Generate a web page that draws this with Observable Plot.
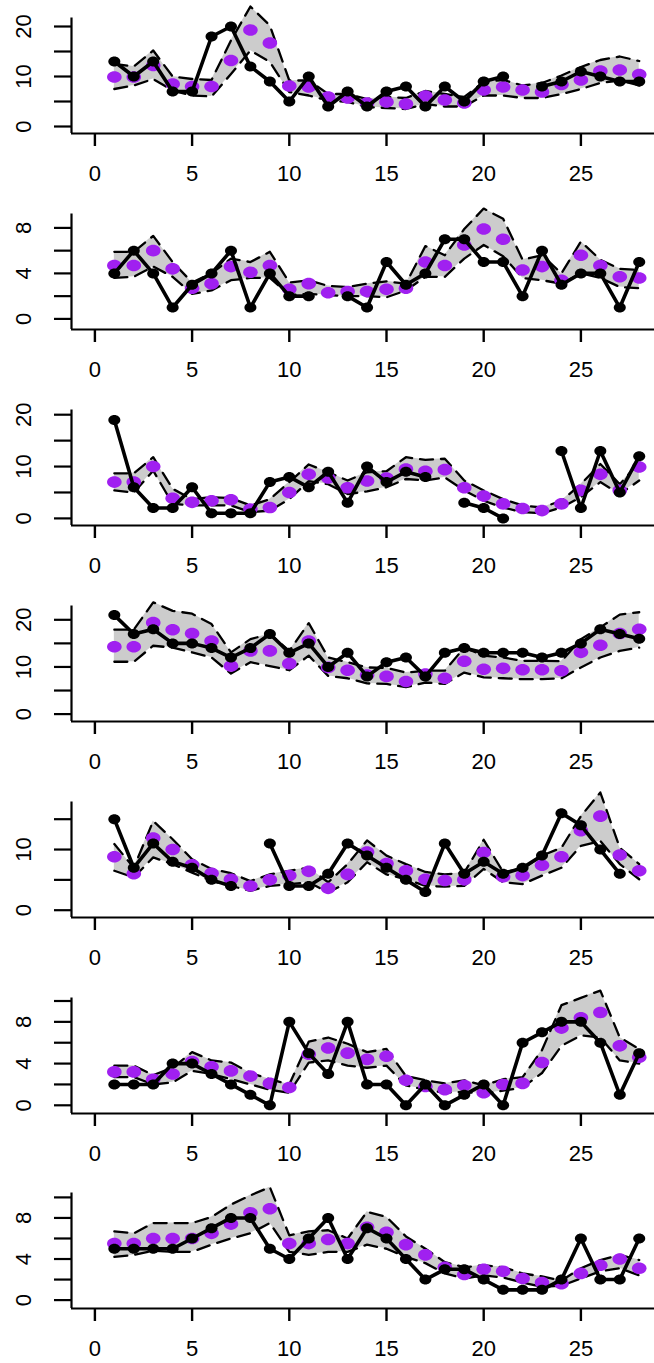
<!DOCTYPE html>
<html><head><meta charset="utf-8">
<script src="https://cdn.jsdelivr.net/npm/d3@7"></script>
<script src="https://cdn.jsdelivr.net/npm/@observablehq/plot@0.6"></script>
<style>
html,body{margin:0;padding:0;background:#fff;overflow:hidden;}
#wrap{position:relative;width:654px;height:1363px;}
#wrap svg{position:absolute;left:0;background:transparent;overflow:visible;}
</style></head><body><div id="wrap"></div>
<script>
const days = d3.range(1, 29);
const xTicks = [0, 5, 10, 15, 20, 25];

const obs1 = [13,10,13,7,7,18,20,12,9,5,10,4,7,4,7,8,4,8,5,9,10,null,8,9,11,10,9,9];
const pred1 = [9.9,9.9,12.2,8.5,8,8,13.2,19.3,16.7,8.1,7.9,5.9,5.7,4.7,4.9,4.5,6.1,5.3,4.7,7.3,7.9,7.3,6.9,8.4,9.3,11.1,11.3,10.4];
const lo1 = [7.5,8.2,9.5,7.2,6.2,6,10.5,15.2,12.9,6.9,6.2,5.2,4.9,3.9,3.7,3.5,4.5,4,4,6.2,6.2,5.7,5.7,6.5,7.5,8.7,9.2,8.2];
const hi1 = [12.5,12,15.2,10,9.5,9.3,17.2,24,20.2,9.2,9.2,6.5,6.5,5.5,5.9,5.7,7.1,6.5,5.9,8.9,9.3,8.2,8.7,10.2,11.9,13.3,14,13.1];

const obs2 = [4,6,4,1,3,4,6,1,4,2,2,null,2,1,5,3,4,7,7,5,5,2,6,3,4,4,1,5];
const pred2 = [4.7,4.7,6,4.4,2.7,3.1,4.6,4.1,4.7,2.6,3.1,2.3,2.4,2.4,2.6,2.7,5,4.7,6.5,7.9,7,4.3,4.6,3.4,5.6,4.7,3.7,3.6];
const lo2 = [3.6,3.7,4.6,3.7,2.2,2.5,3.4,3.6,3.6,2.1,2.2,2.1,2,2,1.9,2.5,3.7,3.7,5.3,6.5,5.5,3.6,3.4,3.1,4,3.6,2.8,2.7];
const hi2 = [5.9,5.9,7.3,5,3.2,4,5.3,5,5.9,3.2,3.4,2.9,2.8,3.1,3.3,3.1,6.4,5.6,7.9,9.7,8.8,5.2,5.6,4,6.8,5.2,4.4,4.3];

const obs3 = [19,6,2,2,6,1,1,1,7,8,6,9,3,10,7,9,8,null,3,2,0,null,null,13,2,13,5,12];
const pred3 = [7,7,10,3.9,3.1,3.4,3.6,1.8,2.1,5,8.5,7.8,5.9,7.2,7.8,9.5,9.1,9.4,5.9,4.3,2.8,1.9,1.5,2.8,5.4,8.5,5.4,9.9];
const lo3 = [5.4,5,9.2,2.8,2.5,2.5,2.5,1.2,1.5,3.7,7.2,6.6,4.7,5.2,6,7.6,7.3,7.9,5.4,3.4,2.1,1.2,1,2.1,4.1,7,4.7,7.3];
const hi3 = [8.7,8.7,11.8,5.7,3.7,4.1,3.9,2.5,3.7,7,10.4,8.9,7.3,8.9,9.1,11.8,11.3,11.5,7.3,5.4,3.7,2.5,2.1,3.4,6.6,10.5,6.6,10.8];

const obs4 = [21,17,18,15,15,14,12,14,17,13,15,10,13,8,11,12,8,13,14,13,13,13,12,13,15,18,17,16];
const pred4 = [14.3,14.3,19.4,17.9,17.1,15.5,10.2,13.4,13.4,10.7,15.5,9.9,9.3,8.3,8,6.9,8.5,7.6,11.2,9.5,9.7,9.4,9.4,9.2,13.1,14.6,17.1,18];
const lo4 = [11.1,11.1,14.5,14.1,13.1,12,8.6,11,10.2,9.3,12.4,8.1,7.6,6.5,6.4,5.7,6.7,6.4,8.8,7.8,7.6,7.4,7.4,7.6,9.9,12,13.4,14.1];
const hi4 = [17.9,17.9,23.7,21.9,21.3,19.1,13.1,15.9,17,13.4,19.3,12,11,9.9,9.8,8.8,9.2,9.2,14.1,12.4,12,11.3,11.3,11.2,15.9,18.4,21.1,21.6];

const obs5 = [15,7,11,8,7,5,4,null,11,4,4,6,11,9,7,5,3,11,6,8,6,7,9,16,14,10,6,null];
const pred5 = [8.8,6,11.9,10,7.5,6.1,5.1,4,5,5.7,6.4,3.6,5.9,9.6,7.7,6.5,5.1,4.9,5,9.5,5.5,5.7,7.4,8.8,13.1,15.5,9.1,6.5];
const lo5 = [6.5,5.4,8.7,7.6,6.2,4.8,4,3.2,4,4.3,4.6,2.9,4.6,7.9,5.9,5.1,4,3.9,4,6.8,4.6,4.3,5.7,7,10.6,11.4,7.6,5.1];
const hi5 = [10.9,7,14.7,11.7,8.4,6.8,6.1,4.8,5.9,6.5,7,4.6,7.6,11.5,9,7.6,6.3,5.9,6.2,11.6,6.3,6.8,9,10.3,15.5,19.4,10.3,7.6];

const obs6 = [2,2,2,4,4,3,2,1,0,8,5,3,8,2,2,0,2,0,1,2,0,6,7,8,8,6,1,5];
const pred6 = [3.2,3.2,2.5,3,4.2,3.7,3.3,2.8,2.1,1.7,4.9,5.5,5,4.4,4.7,2.4,1.8,1.5,1.9,1.2,2,2.1,4.1,7.4,8.4,8.9,5.7,4.6];
const lo6 = [2.7,2.7,2,2.2,3.3,3,2.5,2,1.5,1.2,4.1,4.3,3.8,3.6,3.8,1.9,1.5,1.2,1.3,1.1,1.4,1.7,3.1,5.7,6.7,6.5,4.3,4];
const hi6 = [3.8,3.8,2.9,3.6,5.1,4.3,4.1,3.1,2.5,2,6.1,6.5,5.9,5.1,5.4,2.8,2.4,2.1,2.4,1.9,2.5,2.7,5.3,9.6,10.3,11,6.5,5.4];

const obs7 = [5,5,5,5,6,7,8,8,5,4,6,8,4,7,6,4,2,3,3,2,1,1,1,2,6,2,2,6];
const pred7 = [5.5,5.5,6,6,6,6.5,7.4,8.5,8.9,5.5,5.5,5.9,5.5,7.1,6.6,5.4,4.4,3.2,2.5,3,2.8,2.1,1.7,1.6,2.6,3.4,4,3.1];
const lo7 = [4.2,4.4,4.8,4.7,4.7,5.4,6,6.5,7.5,4.7,4.4,4.7,4.7,5.4,5,4.2,3.6,2.6,2.1,2.4,2.2,1.7,1.3,1.4,2.1,2.8,3.1,2.4];
const hi7 = [6.7,6.5,7.5,7.5,7.5,8.1,9.3,10.2,11,6.3,6.7,6.8,6,8.6,8.1,6.2,5,3.7,3.2,3.4,3.2,2.6,2.3,1.9,3.1,3.9,4.4,3.9];

const yTicks1 = [0,5,10,15,20], yLab1 = [0,10,20];
const yTicks2 = [0,2,4,6,8], yLab2 = [0,4,8];
const yTicks5 = [0,5,10,15], yLab5 = [0,10];
const yTicks6 = [0,2,4,6,8,10], yLab6 = [0,4,8];

// layout (pixel geometry of each panel): zero tick px, reference value and its px
const panels = [
  {obs: obs1, pred: pred1, lo: lo1, hi: hi1, ticks: yTicks1, labels: yLab1, zeroPx: 126, refVal: 20, refPx: 26},
  {obs: obs2, pred: pred2, lo: lo2, hi: hi2, ticks: yTicks2, labels: yLab2, zeroPx: 318.3, refVal: 8, refPx: 227.3},
  {obs: obs3, pred: pred3, lo: lo3, hi: hi3, ticks: yTicks1, labels: yLab1, zeroPx: 517.7, refVal: 20, refPx: 414},
  {obs: obs4, pred: pred4, lo: lo4, hi: hi4, ticks: yTicks1, labels: yLab1, zeroPx: 713.3, refVal: 20, refPx: 619},
  {obs: obs5, pred: pred5, lo: lo5, hi: hi5, ticks: yTicks5, labels: yLab5, zeroPx: 909.3, refVal: 15, refPx: 818.3},
  {obs: obs6, pred: pred6, lo: lo6, hi: hi6, ticks: yTicks6, labels: yLab6, zeroPx: 1104.3, refVal: 10, refPx: 1000},
  {obs: obs7, pred: pred7, lo: lo7, hi: hi7, ticks: yTicks6, labels: yLab6, zeroPx: 1300, refVal: 10, refPx: 1197.3}
];

const ellipse = (rx, ry) => ({
  draw(ctx) {
    const k = 0.5523;
    ctx.moveTo(rx, 0);
    ctx.bezierCurveTo(rx, k * ry, k * rx, ry, 0, ry);
    ctx.bezierCurveTo(-k * rx, ry, -rx, k * ry, -rx, 0);
    ctx.bezierCurveTo(-rx, -k * ry, -k * rx, -ry, 0, -ry);
    ctx.bezierCurveTo(k * rx, -ry, rx, -k * ry, rx, 0);
    ctx.closePath();
  }
});

const W = 654, marginLeft = 71, x0px = 94.4, pxPerDay = 19.44;
const xLo = (marginLeft - x0px) / pxPerDay, xHi = (W - x0px) / pxPerDay;
const H = 196, localBottom = 135, boxH = 115.5, step = 195.9;
const wrap = document.getElementById("wrap");
const font = "'Liberation Sans', Arial, Helvetica, sans-serif";

panels.forEach((p, i) => {
  const bottomAbs = 133 + step * i;
  const topAbs = bottomAbs - boxH;
  const k = (p.zeroPx - p.refPx) / p.refVal;
  const yLo = (p.zeroPx - bottomAbs) / k, yHi = (p.zeroPx - topAbs) / k;
  const rows = days.map((d, j) => ({day: d, obs: p.obs[j], pred: p.pred[j], lo: p.lo[j], hi: p.hi[j]}));
  const svg = Plot.plot({
    width: W, height: H,
    marginLeft, marginRight: 0, marginTop: localBottom - boxH, marginBottom: H - localBottom,
    style: {fontFamily: font, fontSize: "22px", background: "transparent", overflow: "visible"},
    x: {domain: [xLo, xHi]},
    y: {domain: [yLo, yHi]},
    marks: [
      Plot.areaY(rows, {x: "day", y1: "lo", y2: "hi", fill: "#cccccc"}),
      Plot.line(rows, {x: "day", y: "lo", stroke: "black", strokeWidth: 2.3, strokeDasharray: "13,8"}),
      Plot.line(rows, {x: "day", y: "hi", stroke: "black", strokeWidth: 2.3, strokeDasharray: "13,8"}),
      Plot.dot(rows, {x: "day", y: "pred", fill: "#a020f0", stroke: "none", symbol: ellipse(7.3, 5.8)}),
      Plot.line(rows, {x: "day", y: "obs", stroke: "black", strokeWidth: 3.6}),
      Plot.dot(rows, {x: "day", y: "obs", fill: "black", stroke: "none", symbol: ellipse(6, 5)}),
      Plot.ruleX([xLo], {stroke: "black", strokeWidth: 2.2}),
      Plot.ruleY([yLo], {stroke: "black", strokeWidth: 2.2}),
      Plot.axisX(xTicks, {anchor: "bottom", tickSize: 13, tickFormat: () => "", strokeWidth: 2.4, label: null}),
      Plot.axisY(p.ticks, {anchor: "left", tickSize: 17, tickFormat: () => "", strokeWidth: 2.2, label: null}),
      Plot.text(xTicks, {x: d => d, frameAnchor: "bottom", dy: 40, text: d => String(d), fontSize: 22, lineAnchor: "middle", textAnchor: "middle", ariaLabel: "xlab"}),
      Plot.text(p.labels, {y: d => d, frameAnchor: "left", dx: -48, rotate: -90, text: d => String(d), fontSize: 22, lineAnchor: "middle", textAnchor: "middle", ariaLabel: "ylab"})
    ]
  });
  svg.style.top = (bottomAbs - localBottom) + "px";
  wrap.appendChild(svg);
  svg.querySelectorAll('g[aria-label="xlab"] text').forEach(t => {
    const L = t.getComputedTextLength();
    t.setAttribute("textLength", (L * 1.12).toFixed(1));
    t.setAttribute("lengthAdjust", "spacingAndGlyphs");
  });
});
</script></body></html>
